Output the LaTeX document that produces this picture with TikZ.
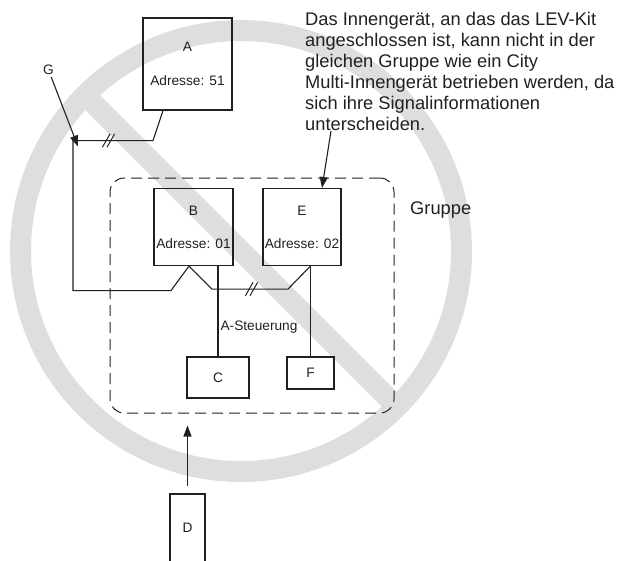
\documentclass[tikz,border=0pt]{standalone}
\usepackage{fontspec}
\setmainfont{Liberation Sans}
\usetikzlibrary{arrows.meta,calc,positioning}
\definecolor{signgray}{RGB}{221,222,224}
\definecolor{ink}{RGB}{35,31,32}
\tikzset{
  box/.style={draw, line width=1.1pt, inner sep=0pt, align=center, font=\fontsize{13.7}{16}\selectfont},
  wire/.style={line width=1.1pt},
  arr/.style={-{Triangle[length=11pt,width=8pt]}, line width=1.1pt},
  lbl/.style={font=\fontsize{13.7}{16}\selectfont, inner sep=2pt},
  txt/.style={font=\fontsize{18.3}{21}\selectfont, inner sep=0pt},
  grpbox/.style={draw, dash pattern=on 11pt off 6pt, line width=1pt, rounded corners=14pt},
  sign/.style={draw=signgray, line width=21pt},
}

\begin{document}
\begin{tikzpicture}[x=1pt, y=-1pt, ink]
  \useasboundingbox (0,0) rectangle (626,560);
  % prohibition sign behind everything
  \draw[sign] (241,251) circle (220.5);
  \draw[sign] (241,251) ++(225:212) -- ++(45:424);
  % group
  \node[grpbox, minimum width=284pt, minimum height=235pt] (grp) at (252,295.5) {};
  \node[txt, anchor=west] (gruppe) at (410,210.4) {Gruppe};
  % units
  \node[box, minimum width=89pt, minimum height=92pt] (A) at (187.5,64) {A\\[18pt]Adresse: 51};
  \node[box, minimum width=79pt, minimum height=77pt] (B) at (193.5,227) {B\\[17pt]Adresse: 01};
  \node[box, minimum width=78pt, minimum height=77pt] (E) at (302,227) {E\\[17pt]Adresse: 02};
  \node[box, minimum width=62pt, minimum height=41pt] (C) at (218,377.5) {C};
  \node[box, minimum width=47pt, minimum height=32pt] (F) at (310.5,373) {F};
  \node[box, minimum width=35pt, minimum height=68pt] (D) at (187.5,528) {D};
  % transmission line
  \draw[wire] ([xshift=-24.5pt]A.south) -- ++(-10,30) -- coordinate[pos=0.556] (cut1) ++(-80,0) coordinate (bend)
    -- ++(0,150) -- ++(98,0) -- ([xshift=-4.5pt]B.south) -- ++(23,23)
    -- coordinate[pos=0.52] (cut2) ++(76,0) -- ([xshift=8.5pt]E.south);
  \foreach \c in {cut1,cut2}
    \foreach \d in {-2.3,2.3}
      \draw[line width=1pt] ([shift={(\d-3.8,6.7)}]\c) -- ([shift={(\d+3.8,-6.7)}]\c);
  % remote controllers
  \draw[wire] (B.south -| C.north) -- node[lbl, right, pos=0.672] (steu) {A-Steuerung} (C.north);
  \draw[wire] (E.south -| F.north) -- (F.north);
  % notes
  \node[lbl] (G) at (48.5,70) {G};
  \draw[arr] (G) -- ([shift={(5,6)}]bend);
  \node[txt, anchor=north west, align=left] (note) at (305,12.2) {Das Innengerät, an das das LEV-Kit\\
    angeschlossen ist, kann nicht in der\\
    gleichen Gruppe wie ein City\\
    Multi-Innengerät betrieben werden, da\\
    sich ihre Signalinformationen\\
    unterscheiden.};
  \draw[arr] ([xshift=26pt]note.south west) -- ([xshift=20pt]E.north);
  \draw[arr, shorten <=7pt, shorten >=12pt] (D.north) -- (D.north |- grp.south);
\end{tikzpicture}
\end{document}
